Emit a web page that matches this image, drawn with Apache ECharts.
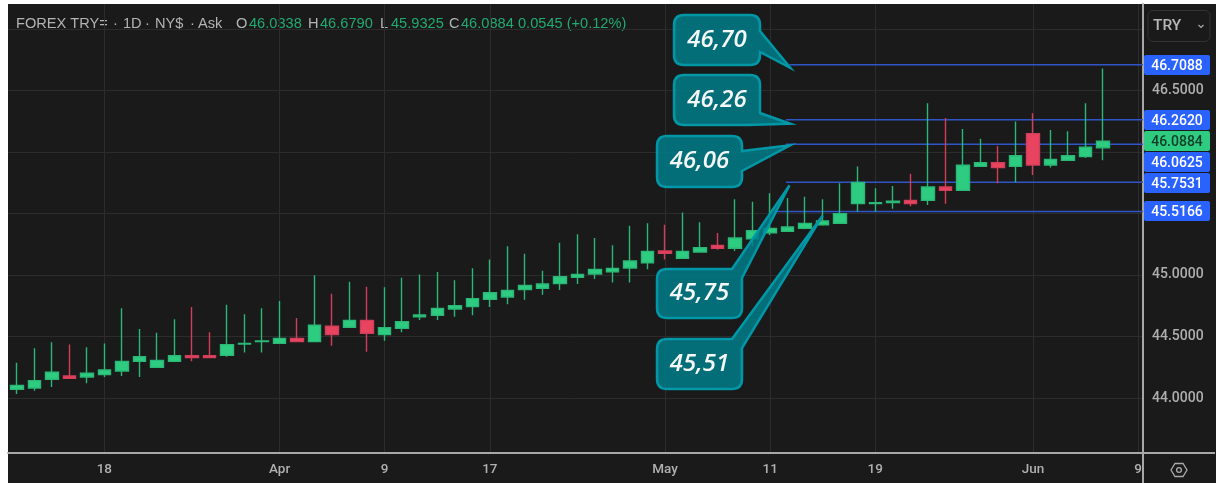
<!DOCTYPE html>
<html><head><meta charset="utf-8">
<style>
html,body{margin:0;padding:0;background:#fff;overflow:hidden}
#panel{position:absolute;left:8px;top:4px;width:1208px;height:479px;background:#1a1a1a}
#chart{position:absolute;left:0;top:0;width:1219px;height:483px}
</style>
<script src="https://cdn.jsdelivr.net/npm/echarts@6/dist/echarts.min.js"></script>
</head><body><div id="panel"></div><div id="chart"></div>
<script>
const opens=[44.070,44.081,44.152,44.179,44.171,44.190,44.220,44.298,44.249,44.298,44.344,44.344,44.347,44.439,44.458,44.444,44.485,44.458,44.583,44.575,44.631,44.515,44.566,44.661,44.672,44.724,44.743,44.802,44.821,44.881,44.892,44.930,44.981,45.008,45.027,45.057,45.100,45.195,45.135,45.187,45.241,45.217,45.295,45.344,45.355,45.379,45.409,45.420,45.580,45.580,45.588,45.607,45.607,45.715,45.688,45.883,45.913,45.883,46.149,45.894,45.932,45.962,46.0338];
const closes=[44.103,44.141,44.209,44.160,44.201,44.228,44.298,44.336,44.306,44.344,44.328,44.328,44.434,44.444,44.463,44.485,44.458,44.591,44.515,44.631,44.526,44.572,44.621,44.675,44.729,44.751,44.808,44.856,44.875,44.916,44.927,44.986,45.005,45.046,45.054,45.114,45.192,45.176,45.192,45.222,45.217,45.301,45.360,45.379,45.390,45.420,45.439,45.499,45.753,45.588,45.599,45.580,45.715,45.688,45.892,45.913,45.873,45.970,45.894,45.940,45.970,46.038,46.0884];
const lows=[44.033,44.060,44.089,44.160,44.119,44.171,44.179,44.171,44.249,44.298,44.298,44.328,44.336,44.369,44.369,44.444,44.458,44.458,44.425,44.575,44.377,44.466,44.534,44.634,44.634,44.661,44.672,44.740,44.762,44.799,44.840,44.878,44.927,44.967,44.940,44.940,45.046,45.125,45.135,45.187,45.206,45.195,45.236,45.325,45.355,45.371,45.401,45.420,45.515,45.515,45.539,45.558,45.569,45.580,45.688,45.883,45.745,45.753,45.813,45.873,45.932,45.951,45.9325];
const highs=[44.287,44.404,44.453,44.436,44.412,44.444,44.729,44.561,44.531,44.640,44.740,44.534,44.759,44.680,44.729,44.789,44.650,44.997,44.848,44.946,44.905,44.900,44.978,45.005,45.024,44.957,45.054,45.125,45.233,45.173,45.035,45.263,45.331,45.301,45.241,45.401,45.420,45.409,45.509,45.428,45.341,45.615,45.596,45.664,45.626,45.637,45.615,45.745,45.881,45.705,45.724,45.824,46.396,46.276,46.187,46.108,46.049,46.247,46.314,46.179,46.168,46.396,46.6790];
const xTickSlots=[5,15,21,27,37,43,49,58,64];
const xTickLabels=['18','Apr','9','17','May','11','19','Jun','9'];
const yGridValues=[44,44.5,45,45.5,46,46.5,47];
const yLabelValues=[44,44.5,45,46.5];
const levelValues=[46.7088,46.2620,46.0625,45.7531,45.5166];
const levelStarts=[44.1,43.9,43.9,43.9,43.3];
const calloutTexts=['46,70','46,26','46,06','45,75','45,51'];
const calloutTipSlots=[44.15,44.15,44.15,44.1,46.0];
const lastPrice=46.0884;
const headerNames=['FOREX TRY=','·','1D','·','NY$','·','Ask','O','H','L','C'];
const headerValues=['46.0338','46.6790','45.9325','46.0884','0.0545 (+0.12%)'];

// layout (pixels), kept apart from the data
const XMIN=-0.5, XMAX=64.28, YMIN=43.553, YMAX=47.203;
const headerNameX=[16,113,123,145,155,190,198,236,308,380,449];
const headerValueX=[249,320,391,461,518];
const tagCentreShift=[0,0,18,1,0];          // price tags pushed to avoid overlaps
const calloutBoxes=[[674,15,86,50],[674,75,86,50],[657,136,85,51],[657,269,85,49],[657,339,85,50]];
const calloutTailBase=[[[760,31],[760,52]],[[760,113],[748,125]],[[742,151],[742,171]],[[732,269],[742,278]],[[732,339],[742,348]]];
const calloutTipShift=[[0,3],[0,4],[0,1],[0,3],[0,4]];

function calloutPath(b,t,tip){
  const [x,y,w,h]=b, r=10, R=x+w, B=y+h;
  let d=`M${x+r} ${y}`;
  if(t[0][1]===y){ d+=` L${t[0][0]} ${y} L${tip[0]} ${tip[1]} L${t[1][0]} ${t[1][1]}`;
    d+=` L${R} ${B-r} Q${R} ${B} ${R-r} ${B}`; }
  else if(t[1][1]===B){ d+=` L${R-r} ${y} Q${R} ${y} ${R} ${y+r} L${t[0][0]} ${t[0][1]} L${tip[0]} ${tip[1]} L${t[1][0]} ${t[1][1]} L${R-r} ${B}`; }
  else { d+=` L${R-r} ${y} Q${R} ${y} ${R} ${y+r} L${t[0][0]} ${t[0][1]} L${tip[0]} ${tip[1]} L${t[1][0]} ${t[1][1]} L${R} ${B-r} Q${R} ${B} ${R-r} ${B}`; }
  d+=` L${x+r} ${B} Q${x} ${B} ${x} ${B-r} L${x} ${y+r} Q${x} ${y} ${x+r} ${y} Z`;
  return d;
}
const TAG_FONT='500 14px Roboto, sans-serif';
const HEAD_FONT='14.6px "Liberation Sans", sans-serif';
const headerGraphics=headerNames.map((t,i)=>({type:'text',style:{x:headerNameX[i],y:24,text:t,fill:'#b4b4b4',font:HEAD_FONT,verticalAlign:'middle'}}))
  .concat(headerValues.map((t,i)=>({type:'text',style:{x:headerValueX[i],y:24,text:t,fill:'#22ab70',font:HEAD_FONT,verticalAlign:'middle'}})));
const chart=echarts.init(document.getElementById('chart'),null,{renderer:'canvas'});
chart.setOption({
  animation:false,
  backgroundColor:'transparent',
  grid:{left:8,right:76,top:4,bottom:30,containLabel:false},
  xAxis:{type:'value',min:XMIN,max:XMAX,
    axisLine:{onZero:false,lineStyle:{color:'#a8a8a8',width:2}},
    axisTick:{show:false,customValues:xTickSlots},
    splitLine:{show:true,lineStyle:{color:'#2c2c2e',width:1}},
    axisLabel:{customValues:xTickSlots,margin:10,color:'#b0b0b0',fontFamily:'Roboto',fontWeight:500,fontSize:13.5,
      showMinLabel:true,showMaxLabel:true,hideOverlap:false,
      formatter:v=>xTickLabels[xTickSlots.indexOf(v)]}},
  yAxis:{type:'value',position:'right',min:YMIN,max:YMAX,scale:true,
    axisLine:{show:true,onZero:false,lineStyle:{color:'#a8a8a8',width:2}},
    axisTick:{show:false,customValues:yGridValues},
    splitLine:{show:true,lineStyle:{color:'#2c2c2e',width:1}},
    axisLabel:{customValues:yLabelValues,margin:9,padding:[5,0,0,0],color:'#b0b0b0',fontFamily:'Roboto',fontWeight:500,fontSize:14,
      formatter:v=>v.toFixed(4)}},
  series:[
    {type:'custom',name:'levels',z:1,clip:false,silent:true,
     data:levelValues.map((v,i)=>[levelStarts[i],v,i]),
     encode:{x:0,y:1},
     renderItem(p,api){
       const v=api.value(1);
       const a=api.coord([api.value(0),v]), b=api.coord([XMAX,v]);
       return {type:'line',shape:{x1:a[0],y1:a[1],x2:b[0],y2:b[1]},style:{stroke:'#2f55c8',lineWidth:1.5}};
     }},
    {type:'candlestick',barWidth:13,z:2,
     itemStyle:{color:'#2ecc80',color0:'#e8445f',borderColor:'#2bb776',borderColor0:'#d23e59',borderWidth:1.4},
     data:opens.map((o,i)=>[i,o,closes[i],lows[i],highs[i]]),
     encode:{x:0,y:[1,2,3,4]}},
    {type:'custom',name:'tags',z:6,clip:false,silent:true,
     data:levelValues.map((v,i)=>[XMAX,v,i,0]).concat([[XMAX,lastPrice,-1,1]]),
     encode:{x:0,y:1},
     renderItem(p,api){
       const i=api.value(2), v=api.value(1), cur=api.value(3)===1;
       const c=api.coord([XMAX,v]);
       const cy=Math.round(c[1]+(cur?0:tagCentreShift[i]));
       return {type:'group',children:[
         {type:'rect',z2:cur?1:2,shape:{x:c[0]+1,y:cy-10,width:66,height:20,r:2},style:{fill:cur?'#2ecc80':'#2962ff'}},
         {type:'text',z2:3,style:{x:c[0]+34,y:cy+1,text:v.toFixed(4),align:'center',verticalAlign:'middle',
           fill:cur?'#0d3d26':'#ffffff',font:TAG_FONT}}
       ]};
     }},
    {type:'custom',name:'callouts',z:5,clip:false,silent:true,
     data:levelValues.map((v,i)=>[calloutTipSlots[i],v,i]),
     encode:{x:0,y:1},
     renderItem(p,api){
       const i=api.value(2);
       const c=api.coord([api.value(0),api.value(1)]);
       const tip=[c[0]+calloutTipShift[i][0],c[1]+calloutTipShift[i][1]];
       const b=calloutBoxes[i];
       return {type:'group',children:[
         {type:'path',shape:{pathData:calloutPath(b,calloutTailBase[i],tip)},
          style:{fill:'rgba(0,125,138,0.85)',stroke:'#0097a7',lineWidth:2.5}},
         {type:'text',z2:2,style:{x:b[0]+b[2]/2,y:b[1]+b[3]/2,text:calloutTexts[i],align:'center',verticalAlign:'middle',
           fill:'#f4f8f8',font:'italic 600 24px "Open Sans", sans-serif'}}
       ]};
     }}
  ],
  graphic:headerGraphics.concat([
    {type:'line',z:1,shape:{x1:1143,y1:453,x2:1143,y2:483},style:{stroke:'#a8a8a8',lineWidth:2}},
    {type:'line',z:1,shape:{x1:1143,y1:453,x2:1215,y2:453},style:{stroke:'#a8a8a8',lineWidth:2}},
    {type:'rect',shape:{x:1148,y:10.5,width:62,height:31,r:5},style:{fill:'#1a1a1a',stroke:'#333333',lineWidth:1}},
    {type:'text',style:{x:1153,y:26,text:'TRY',fill:'#b8b8b8',font:'500 15.5px Roboto, sans-serif',verticalAlign:'middle'}},
    {type:'polyline',shape:{points:[[1198.5,25],[1201,27.5],[1203.5,25]]},style:{stroke:'#aaaaaa',lineWidth:1.2,fill:'none'}},
    {type:'polygon',shape:{points:[[1171,470],[1175,463.5],[1183,463.5],[1187,470],[1183,476.5],[1175,476.5]]},style:{fill:'none',stroke:'#aaaaaa',lineWidth:1.3}},
    {type:'circle',shape:{cx:1179,cy:470,r:2.4},style:{fill:'none',stroke:'#aaaaaa',lineWidth:1.3}}
  ])
});
</script></body></html>
